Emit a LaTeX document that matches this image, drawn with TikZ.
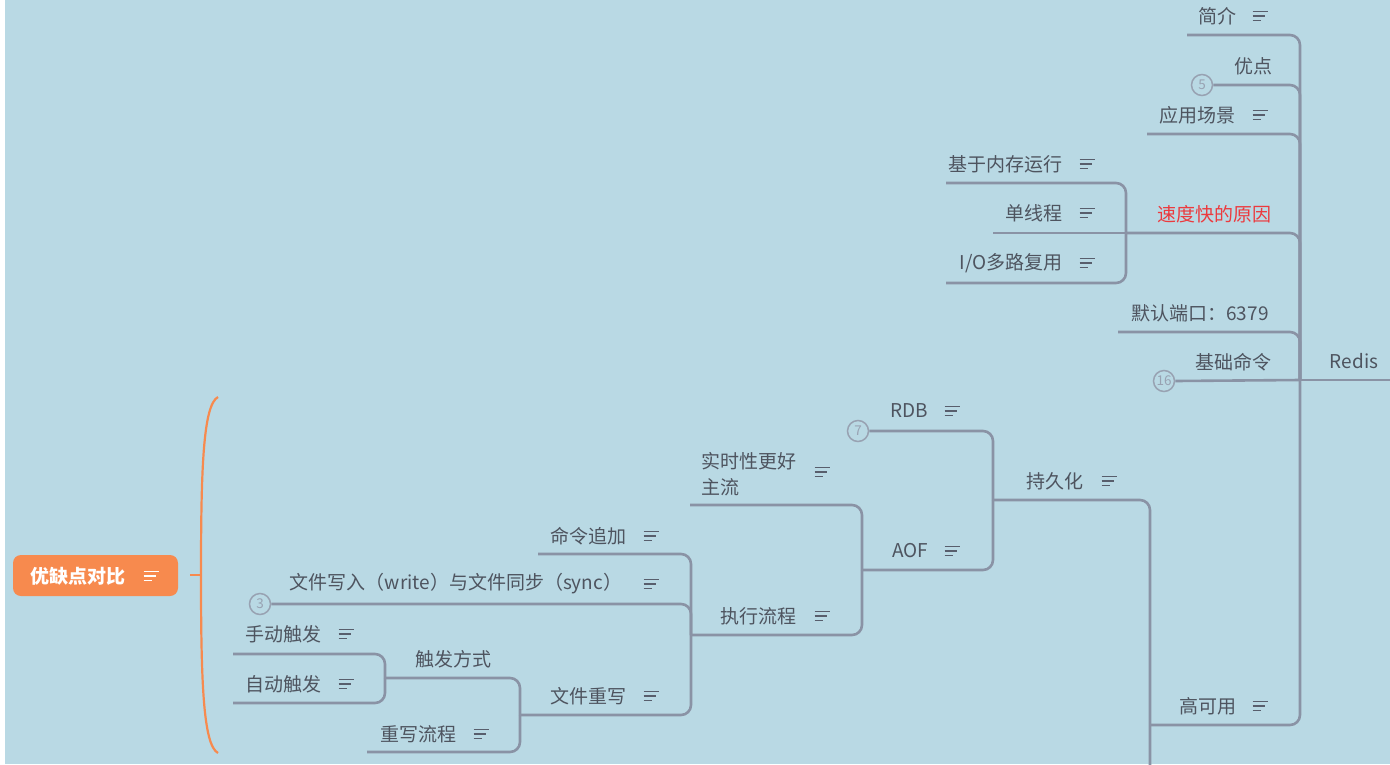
\documentclass[tikz,border=0pt]{standalone}
\usepackage{fontspec}
\setmainfont{Noto Sans CJK SC}
\definecolor{bgc}{RGB}{185,217,228}
\definecolor{linec}{RGB}{138,147,165}
\definecolor{textc}{RGB}{78,84,95}
\definecolor{iconc}{RGB}{88,94,108}
\definecolor{redc}{RGB}{236,58,62}
\definecolor{orangec}{RGB}{247,138,78}
\definecolor{badgec}{RGB}{152,162,178}
\begin{document}
\begin{tikzpicture}[x=1pt,y=-1pt,
  conn/.style={draw=linec, line width=2.6pt, rounded corners=10pt},
  topic/.style={text=textc, font=\fontsize{19}{26}\selectfont, inner sep=0pt},
  badge/.style={circle, draw=badgec, line width=1.5pt, minimum size=21pt, inner sep=0pt, text=badgec, font=\fontsize{13.5}{14}\selectfont, fill=bgc},
  noteclr/.style={color=iconc},
  noteicon/.pic={\draw[line width=1.6pt] (-7.5,-4.6) -- (7.5,-4.6) (-7.5,0) -- (5,0) (-7.5,4.6) -- (1,4.6);}
]
\useasboundingbox (0,0) rectangle (1390,764);
\fill[bgc] (0,0) rectangle (1390,764);
\fill[white] (0,0) rectangle (5,764);
\clip (0,0) rectangle (1390,764);

% junction coordinates
\coordinate (redisJ) at (1300,380);
\coordinate (redisE) at (1392,380);
\coordinate (speedJ) at (1126,233);
\coordinate (persistJ) at (993,500);
\coordinate (persistE) at (1150,768);
\coordinate (aofJ) at (862,570);
\coordinate (execJ) at (691,635);
\coordinate (rewriteJ) at (520,715);
\coordinate (trigJ) at (385,678);
% underline left ends
\coordinate (jianjieL) at (1187,35);
\coordinate (yingyongL) at (1147,134);
\coordinate (memL) at (946,183);
\coordinate (singleL) at (993,233);
\coordinate (ioL) at (946,283);
\coordinate (portL) at (1118,332);
\coordinate (realtimeL) at (690,505);
\coordinate (appendL) at (538,554);
\coordinate (rwflowL) at (367,752);
\coordinate (manualL) at (233,654);
\coordinate (autoL) at (233,703);
\coordinate (haL) at (1150,725);

% badges
\node[badge] (b5) at (1202,85) {5};
\node[badge] (b16) at (1164,381) {16};
\node[badge] (b7) at (858,431) {7};
\node[badge] (b3) at (260,604) {3};

% connectors
\draw[conn] (redisJ) -- (redisE);
\draw[conn] (jianjieL) -| (redisJ);
\draw[conn] (b5.east) -| (redisJ);
\draw[conn] (yingyongL) -| (redisJ);
\draw[conn] (speedJ) -| (redisJ);
\draw[conn] (portL) -| (redisJ);
\draw[conn] (b16.east) -- (redisJ);
\draw[conn] (haL) -| (redisJ);
\draw[conn] (memL) -| (speedJ);
\draw[conn] (singleL) -- (speedJ);
\draw[conn] (ioL) -| (speedJ);
\draw[conn] (persistJ) -| (persistE);
\draw[conn] (b7.east) -| (persistJ);
\draw[conn] (aofJ) -| (persistJ);
\draw[conn] (realtimeL) -| (aofJ);
\draw[conn] (execJ) -| (aofJ);
\draw[conn] (appendL) -| (execJ);
\draw[conn] (b3.east) -| (execJ);
\draw[conn] (rewriteJ) -| (execJ);
\draw[conn] (trigJ) -| (rewriteJ);
\draw[conn] (rwflowL) -| (rewriteJ);
\draw[conn] (manualL) -| (trigJ);
\draw[conn] (autoL) -| (trigJ);

% texts
\node[topic] (redis) at (1354,361) {Redis};
\node[topic] (jianjie) at (1217,16) {简介};
\pic[noteclr] at (1260,16) {noteicon};
\node[topic] (youdian) at (1253,66) {优点};
\node[topic] (yingyong) at (1197,115) {应用场景};
\pic[noteclr] at (1260,115) {noteicon};
\node[topic, text=redc] (speed) at (1214,214) {速度快的原因};
\node[topic] (mem) at (1005,164) {基于内存运行};
\pic[noteclr] at (1087,164) {noteicon};
\node[topic] (single) at (1034,213) {单线程};
\pic[noteclr] at (1087,213) {noteicon};
\node[topic] (io) at (1011,263) {I/O多路复用};
\pic[noteclr] at (1087,263) {noteicon};
\node[topic] (port) at (1200,313) {默认端口：6379};
\node[topic] (cmd) at (1233,362) {基础命令};
\node[topic] (rdb) at (909,411) {RDB};
\pic[noteclr] at (952,411) {noteicon};
\node[topic] (persist) at (1055,481) {持久化};
\pic[noteclr] at (1109,481) {noteicon};
\node[topic] (aof) at (910,551) {AOF};
\pic[noteclr] at (952,551) {noteicon};
\node[topic, anchor=west, align=left] (realtime) at (701,474) {实时性更好\\主流};
\pic[noteclr] at (822,472) {noteicon};
\node[topic] (exec) at (758,616) {执行流程};
\pic[noteclr] at (822,616) {noteicon};
\node[topic] (append) at (588,536) {命令追加};
\pic[noteclr] at (651,536) {noteicon};
\node[topic] (write) at (456,584) {文件写入（write）与文件同步（sync）};
\pic[noteclr] at (651,584) {noteicon};
\node[topic] (rewrite) at (588,696) {文件重写};
\pic[noteclr] at (651,696) {noteicon};
\node[topic] (trig) at (453,659) {触发方式};
\node[topic] (rwflow) at (418,734) {重写流程};
\pic[noteclr] at (481,734) {noteicon};
\node[topic] (manual) at (283,634) {手动触发};
\pic[noteclr] at (346,634) {noteicon};
\node[topic] (auto) at (283,684) {自动触发};
\pic[noteclr] at (346,684) {noteicon};
\node[topic] (ha) at (1208,706) {高可用};
\pic[noteclr] at (1260,706) {noteicon};

% central orange topic
\node[fill=orangec, rounded corners=8pt, minimum width=165pt, minimum height=41pt, inner sep=0pt] (title) at (95.5,575.5) {};
\node[text=white, font=\fontsize{19}{22}\selectfont\bfseries, inner sep=0pt] (titletext) at (78,576) {优缺点对比};
\pic[color=white] at (151,576) {noteicon};
\coordinate (stubL) at (190,575);
\coordinate (brMid) at (201,575);
\coordinate (brTop) at (218,397);
\coordinate (brBot) at (218,753);
\draw[orangec, line width=2.4pt] (stubL) -- (brMid);
\draw[orangec, line width=2.2pt] (brTop) .. controls (203,405) and (201,470) .. (brMid) .. controls (201,680) and (203,745) .. (brBot);
\end{tikzpicture}
\end{document}
